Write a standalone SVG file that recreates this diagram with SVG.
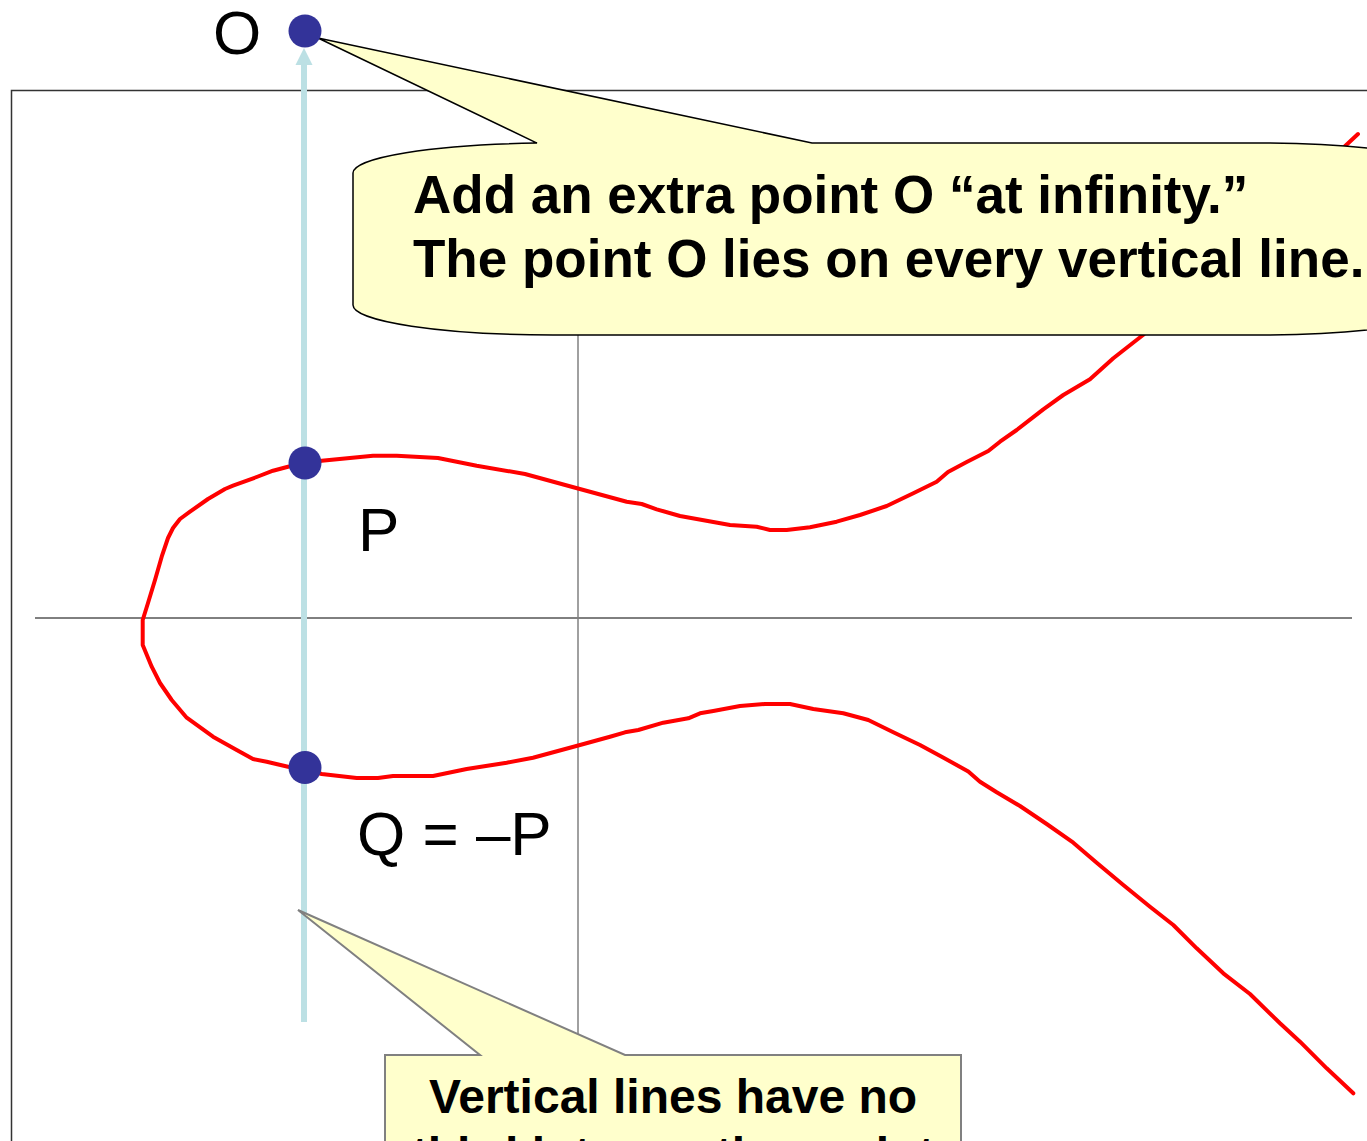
<svg xmlns="http://www.w3.org/2000/svg" width="1367" height="1141" viewBox="0 0 1367 1141">
<style>
.frame{fill:none;stroke:#333;stroke-width:1.5}
.axis{fill:none;stroke:#000;stroke-width:1}
.vaxis{fill:none;stroke:#808080;stroke-width:1.5}
.curve{fill:none;stroke:#FF0000;stroke-width:4;stroke-linejoin:round;stroke-linecap:round}
.vline{fill:none;stroke:#BCE0E4;stroke-width:6}
.callout1{fill:#FFFFCC;stroke:#000;stroke-width:1.5}
.callout2{fill:#FFFFCC;stroke:#808080;stroke-width:2}
.pt{fill:#333399}
.lbl{font-family:"Liberation Sans",Arial,sans-serif;font-size:62px;fill:#000}
.ct{font-family:"Liberation Sans",Arial,sans-serif;font-weight:bold;fill:#000}
</style>
<rect width="1367" height="1141" fill="#fff"/>
<g id="frame">
<path class="frame" d="M 11.5 1141 L 11.5 90.5 L 1367 90.5"/>
</g>
<g id="axes">
<line class="axis" x1="35" y1="618" x2="1352" y2="618"/>
<line class="vaxis" x1="578" y1="100" x2="578" y2="1141"/>
</g>
<g id="curve">
<polyline class="curve" points="1358,134 1143,335 1113.3,358.3 1090,379.3 1063.3,395 1043.3,409.3 1016.7,430 1000,441.7 988.3,451 966.7,462 948,472 936.7,481.7 913.3,493.3 886.7,506 860,515 836.7,521.7 810,527.3 786.7,530 770,530 756.7,526.7 730,525 680,516 656.7,509.3 641.7,504 626.7,501.7 578,488.5 525,474 476.7,465.7 438,458 396.7,455.7 373,455.7 321.7,460.7 305,463 288,466.7 273,470.7 256.7,477 233,485.7 225,489 208,499 190,511.7 180,519 173,528 168,538 161.7,556.7 155,580 148,603 142.7,620 142.7,645 151.7,666.7 160,683 171.7,700 186.7,717.7 213,736.7 236.7,750 253,759 266.7,761.7 288,766.7 305,769 321.7,774 356.7,778 378,778 393,776 433,776 466.7,769 506.7,762.7 533,757.7 580,745 610,736.7 625,732.3 638.3,730 663.3,722.7 688.3,718.3 700,713.3 713.3,711 740,706 765,704 790,704 813.3,709 843.3,713.3 868.3,720 893.3,732.3 920,745 941.7,756.7 968.3,771.5 980,781.7 996.7,792.3 1020,806 1046.7,824 1073.3,842.7 1096.7,862.7 1123.3,885 1150,906.7 1173.3,925 1196.7,948.3 1223.3,973.3 1250,994 1280,1023.3 1300,1041.7 1326.7,1068.3 1353.3,1093.3"/>
</g>
<g id="connectors">
<line class="vline" x1="304" y1="1022" x2="304" y2="62"/>
<polygon points="304,48 295.5,65 312.5,65" fill="#BCE0E4"/>
</g>
<g id="callout-top">
<path class="callout1" d="M 353 173 A 200 30 0 0 1 537 143.1 L 318 38 L 812 143 L 1256 143 A 200 30 0 0 1 1456 173 L 1456 305 A 200 30 0 0 1 1256 335 L 553 335 A 200 30 0 0 1 353 305 Z"/>
<text class="ct" font-size="53" x="413" y="213">Add an extra point O “at infinity.”</text>
<text class="ct" font-size="53" x="413" y="277">The point O lies on every vertical line.</text>
</g>
<g id="callout-bottom">
<path class="callout2" d="M 385 1145 L 385 1055 L 480 1055 L 298 910 L 625 1055 L 961 1055 L 961 1145"/>
<text class="ct" font-size="48" x="673" y="1113" text-anchor="middle">Vertical lines have no</text>
<text class="ct" font-size="48" x="673" y="1171" text-anchor="middle">third intersection point</text>
</g>
<g id="point-O">
<circle class="pt" cx="305" cy="31" r="16.5"/>
<text class="lbl" x="213" y="54">O</text>
</g>
<g id="point-P">
<circle class="pt" cx="305" cy="463" r="16.5"/>
<text class="lbl" x="358" y="551">P</text>
</g>
<g id="point-Q">
<circle class="pt" cx="305" cy="767.5" r="16.5"/>
<text class="lbl" x="357" y="855">Q = –P</text>
</g>
</svg>
